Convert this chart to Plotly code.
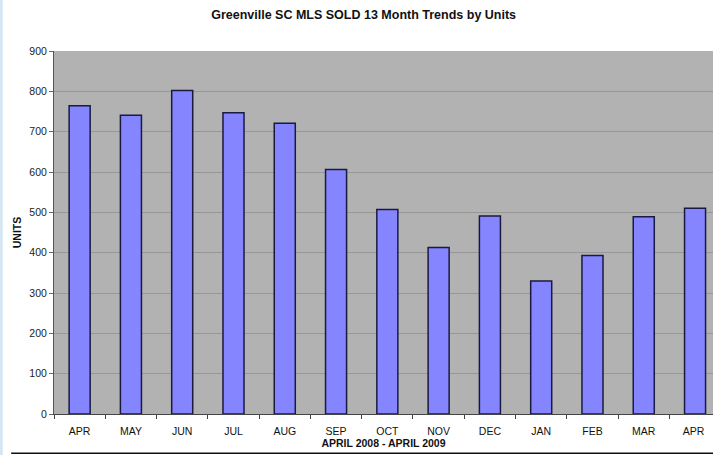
import plotly.graph_objects as go

months = ["APR", "MAY", "JUN", "JUL", "AUG", "SEP", "OCT", "NOV", "DEC", "JAN", "FEB", "MAR", "APR "]
units = [764, 741, 802, 747, 721, 606, 507, 413, 491, 330, 393, 489, 510]
y_ticks = [0, 100, 200, 300, 400, 500, 600, 700, 800, 900]

fig = go.Figure()
fig.add_trace(go.Bar(
    x=months, y=units,
    marker=dict(color="#8585FF", line=dict(color="#1A1A40", width=1.5)),
))

fig.update_layout(
    width=713, height=455,
    margin=dict(l=54, r=0, t=51, b=41, autoexpand=False),
    paper_bgcolor="white",
    plot_bgcolor="#B2B2B2",
    bargap=0.59,
    showlegend=False,
    font=dict(family="Liberation Sans, Arial, sans-serif", color="#111111"),
    title=dict(text="<b>Greenville SC MLS SOLD 13 Month Trends by Units</b>",
               x=0.51, xanchor="center", y=0.968, yanchor="middle",
               font=dict(size=12.5, color="#111111")),
)
fig.update_xaxes(
    type="category", range=[-0.5, 12.35], automargin=False,
    tickson="boundaries", ticks="outside", ticklen=4, tickcolor="#444444",
    ticklabelstandoff=7,
    showline=True, linecolor="#444444", linewidth=1,
    showgrid=False, tickfont=dict(size=10.5, color="#111111"),
    title=dict(text="<b>APRIL 2008 - APRIL 2009</b>", font=dict(size=10.5), standoff=4),
)
fig.update_yaxes(
    range=[0, 900], tickvals=y_ticks, automargin=False,
    ticks="outside", ticklen=4, tickcolor="#666666",
    showline=True, linecolor="#555555", linewidth=1,
    showgrid=True, gridcolor="#979797", gridwidth=1,
    zeroline=False,
    tickfont=dict(size=10.5, color="#222222"),
    title=dict(text="<b>UNITS</b>", font=dict(size=10.5), standoff=5),
)
# decorative frame pieces from the original screenshot
fig.add_shape(type="line", xref="paper", yref="paper", x0=-0.065, x1=1.0, y0=-0.108, y1=-0.108,
              line=dict(color="#111111", width=1.5))
fig.add_shape(type="line", xref="paper", yref="paper", x0=-0.08, x1=-0.08, y0=-0.12, y1=1.15,
              line=dict(color="#D6E6F2", width=3))

fig.write_html("out.html", config={"displayModeBar": False},
               post_script="document.body.style.margin='0';document.body.style.overflow='hidden';")
